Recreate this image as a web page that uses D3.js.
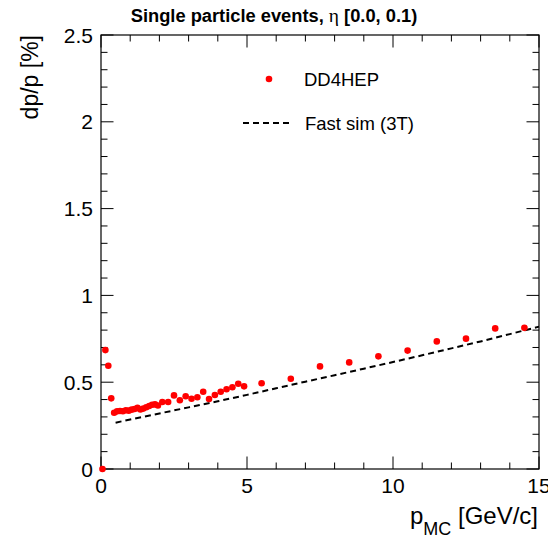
<!DOCTYPE html>
<html>
<head>
<meta charset="utf-8">
<script src="https://cdn.jsdelivr.net/npm/d3@7"></script>
<style>
  body { margin: 0; background: #fff; }
  text { font-family: "Liberation Sans", Arial, Helvetica, sans-serif; fill: #000; }
</style>
</head>
<body>
<div id="chart"></div>
<script>
// DD4HEP points: momentum bins and resolution
const pDD4HEP = [0.05, 0.15, 0.25, 0.35, 0.45, 0.55, 0.65, 0.75, 0.85, 0.95,
                 1.05, 1.15, 1.25, 1.35, 1.45, 1.55, 1.65, 1.75, 1.85, 1.95,
                 2.1, 2.3, 2.5, 2.7, 2.9, 3.1, 3.3, 3.5, 3.7, 3.9,
                 4.1, 4.3, 4.5, 4.7, 4.9,
                 5.5, 6.5, 7.5, 8.5, 9.5, 10.5, 11.5, 12.5, 13.5, 14.5];
const resDD4HEP = [0.0, 0.685, 0.595, 0.407, 0.324, 0.332, 0.334, 0.333, 0.338, 0.336,
                   0.342, 0.346, 0.352, 0.343, 0.348, 0.356, 0.363, 0.370, 0.372, 0.366,
                   0.386, 0.386, 0.424, 0.396, 0.419, 0.405, 0.413, 0.445, 0.403, 0.426,
                   0.445, 0.459, 0.471, 0.491, 0.476,
                   0.494, 0.520, 0.591, 0.614, 0.649, 0.682, 0.735, 0.751, 0.810, 0.813];

// Fast sim (3T) curve
const pFastSim = [0.5, 1, 2, 3, 4, 5, 6, 7, 8, 9, 10, 11, 12, 13, 14, 15];
const resFastSim = [0.267, 0.285, 0.320, 0.355, 0.390, 0.427, 0.465, 0.503,
                    0.540, 0.578, 0.616, 0.655, 0.695, 0.735, 0.777, 0.820];

const xTicks = [0, 5, 10, 15];
const yTicks = [0, 0.5, 1, 1.5, 2, 2.5];

const width = 548, height = 541;
const margin = { top: 35, right: 9, bottom: 72, left: 101 };
const innerW = width - margin.left - margin.right;
const innerH = height - margin.top - margin.bottom;

const svg = d3.select("#chart").append("svg")
  .attr("width", width)
  .attr("height", height);

const x = d3.scaleLinear().domain([0, 15]).range([margin.left, margin.left + innerW]);
const y = d3.scaleLinear().domain([0, 2.5]).range([margin.top + innerH, margin.top]);

// minor ticks every 1 GeV and every 0.1 %
const xMinor = d3.range(0, 15.001, 1).filter(v => v % 5 !== 0);
const yMinor = d3.range(0, 2.5001, 0.1).map(v => +v.toFixed(1)).filter(v => Math.abs(v * 2 - Math.round(v * 2)) > 1e-6);

const axisG = svg.append("g").attr("stroke", "#000").attr("stroke-width", 1);

// bottom + top ticks
[[y(0), -1], [y(2.5), 1]].forEach(([yy, dir]) => {
  axisG.selectAll(null).data(xTicks).join("line")
    .attr("x1", d => x(d)).attr("x2", d => x(d))
    .attr("y1", yy).attr("y2", d => yy + dir * 12.5);
  axisG.selectAll(null).data(xMinor).join("line")
    .attr("x1", d => x(d)).attr("x2", d => x(d))
    .attr("y1", yy).attr("y2", d => yy + dir * 6.5);
});
// left + right ticks
[[x(0), 1], [x(15), -1]].forEach(([xx, dir]) => {
  axisG.selectAll(null).data(yTicks).join("line")
    .attr("y1", d => y(d)).attr("y2", d => y(d))
    .attr("x1", xx).attr("x2", d => xx + dir * 12.5);
  axisG.selectAll(null).data(yMinor).join("line")
    .attr("y1", d => y(d)).attr("y2", d => y(d))
    .attr("x1", xx).attr("x2", d => xx + dir * 6.5);
});

// frame
svg.append("rect")
  .attr("x", x(0)).attr("y", y(2.5))
  .attr("width", x(15) - x(0)).attr("height", y(0) - y(2.5))
  .attr("fill", "none").attr("stroke", "#000").attr("stroke-width", 1.2);

// tick labels ("15" runs off the right edge, as in the original)
svg.selectAll(".xlab").data(xTicks).join("text")
  .attr("class", "xlab")
  .attr("x", d => x(d)).attr("y", 493)
  .attr("text-anchor", "middle")
  .style("font-size", "21px")
  .text(d => d);

svg.selectAll(".ylab").data(yTicks).join("text")
  .attr("class", "ylab")
  .attr("x", 93).attr("y", d => y(d) + 7.5)
  .attr("text-anchor", "end")
  .style("font-size", "21px")
  .text(d => d);

// axis titles
const xt = svg.append("text")
  .attr("x", 538).attr("y", 524)
  .attr("text-anchor", "end")
  .style("font-size", "24px");
xt.append("tspan").text("p");
xt.append("tspan").attr("dy", 11).style("font-size", "18px").text("MC");
xt.append("tspan").attr("dy", -11).text(" [GeV/c]");

svg.append("text")
  .attr("transform", `translate(38, ${margin.top}) rotate(-90)`)
  .attr("text-anchor", "end")
  .style("font-size", "23px")
  .text("dp/p [%]");

// title
const title = svg.append("text")
  .attr("x", width / 2).attr("y", 22)
  .attr("text-anchor", "middle")
  .style("font-size", "18.3px")
  .style("font-weight", "bold");
title.append("tspan").text("Single particle events, ");
title.append("tspan")
  .style("font-family", "'Liberation Serif', 'DejaVu Serif', serif")
  .style("font-weight", "normal")
  .style("font-size", "19.5px")
  .text("η");
title.append("tspan").text(" [0.0, 0.1)");

// fast sim dashed curve
const line = d3.line().x(d => x(d[0])).y(d => y(d[1]));
svg.append("path")
  .datum(d3.zip(pFastSim, resFastSim))
  .attr("d", line)
  .attr("fill", "none")
  .attr("stroke", "#000")
  .attr("stroke-width", 2)
  .attr("stroke-dasharray", "6,4");

// DD4HEP markers
svg.selectAll(".pt").data(d3.zip(pDD4HEP, resDD4HEP)).join("circle")
  .attr("class", "pt")
  .attr("cx", d => x(d[0]))
  .attr("cy", d => y(d[1]))
  .attr("r", 3.3)
  .attr("fill", "#ff0000");

// legend
svg.append("circle").attr("cx", 269).attr("cy", 79).attr("r", 3.3).attr("fill", "#ff0000");
svg.append("text").attr("x", 304).attr("y", 86).style("font-size", "18.5px").text("DD4HEP");
svg.append("line")
  .attr("x1", 243).attr("x2", 293).attr("y1", 123).attr("y2", 123)
  .attr("stroke", "#000").attr("stroke-width", 2).attr("stroke-dasharray", "6,4");
svg.append("text").attr("x", 305).attr("y", 130).style("font-size", "18.5px").text("Fast sim (3T)");
</script>
</body>
</html>
